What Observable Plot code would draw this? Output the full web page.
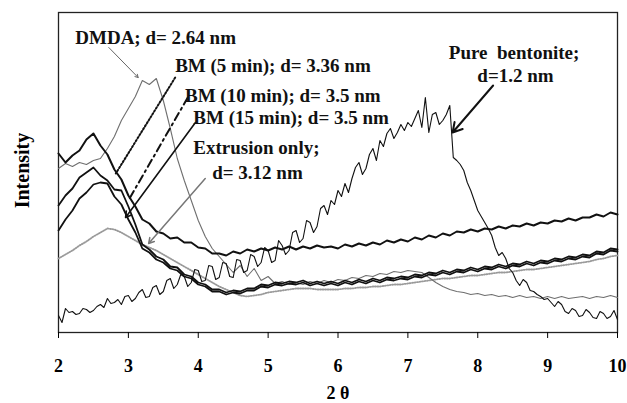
<!DOCTYPE html>
<html>
<head>
<meta charset="utf-8">
<script src="https://cdn.jsdelivr.net/npm/d3@7"></script>
<script src="https://cdn.jsdelivr.net/npm/@observablehq/plot@0.6"></script>
<style>
  html, body { margin: 0; padding: 0; background: #fff; }
  #chart svg { display: block; }
</style>
</head>
<body>
<div id="chart"></div>
<script>
// Diffraction angle grid (2θ, degrees)
const theta = [
  2.0, 2.1, 2.2, 2.3, 2.4, 2.5, 2.6, 2.7, 2.8, 2.9,
  3.0, 3.1, 3.2, 3.3, 3.4, 3.5, 3.6, 3.7, 3.8, 3.9,
  4.0, 4.1, 4.2, 4.3, 4.4, 4.5, 4.6, 4.7, 4.8, 4.9,
  5.0, 5.1, 5.2, 5.3, 5.4, 5.5, 5.6, 5.7, 5.8, 5.9,
  6.0, 6.1, 6.2, 6.3, 6.4, 6.5, 6.6, 6.7, 6.8, 6.9,
  7.0, 7.1, 7.2, 7.3, 7.4, 7.5, 7.6, 7.7, 7.8, 7.9,
  8.0, 8.1, 8.2, 8.3, 8.4, 8.5, 8.6, 8.7, 8.8, 8.9,
  9.0, 9.1, 9.2, 9.3, 9.4, 9.5, 9.6, 9.7, 9.8, 9.9, 10.0
];

// Finer 2θ grid used for the pure bentonite scan
const thetaFine = [
  2.00, 2.05, 2.10, 2.15, 2.20, 2.25, 2.30, 2.35, 2.40, 2.45,
  2.50, 2.55, 2.60, 2.65, 2.70, 2.75, 2.80, 2.85, 2.90, 2.95,
  3.00, 3.05, 3.10, 3.15, 3.20, 3.25, 3.30, 3.35, 3.40, 3.45,
  3.50, 3.55, 3.60, 3.65, 3.70, 3.75, 3.80, 3.85, 3.90, 3.95,
  4.00, 4.05, 4.10, 4.15, 4.20, 4.25, 4.30, 4.35, 4.40, 4.45,
  4.50, 4.55, 4.60, 4.65, 4.70, 4.75, 4.80, 4.85, 4.90, 4.95,
  5.00, 5.05, 5.10, 5.15, 5.20, 5.25, 5.30, 5.35, 5.40, 5.45,
  5.50, 5.55, 5.60, 5.65, 5.70, 5.75, 5.80, 5.85, 5.90, 5.95,
  6.00, 6.05, 6.10, 6.15, 6.20, 6.25, 6.30, 6.35, 6.40, 6.45,
  6.50, 6.55, 6.60, 6.65, 6.70, 6.75, 6.80, 6.85, 6.90, 6.95,
  7.00, 7.05, 7.10, 7.15, 7.20, 7.25, 7.30, 7.35, 7.40, 7.45,
  7.50, 7.55, 7.60, 7.65, 7.70, 7.75, 7.80, 7.85, 7.90, 7.95,
  8.00, 8.05, 8.10, 8.15, 8.20, 8.25, 8.30, 8.35, 8.40, 8.45,
  8.50, 8.55, 8.60, 8.65, 8.70, 8.75, 8.80, 8.85, 8.90, 8.95,
  9.00, 9.05, 9.10, 9.15, 9.20, 9.25, 9.30, 9.35, 9.40, 9.45,
  9.50, 9.55, 9.60, 9.65, 9.70, 9.75, 9.80, 9.85, 9.90, 9.95,
  10.00
];

// Intensities (arbitrary units) for each sample
const dmda = [
  164, 169, 166, 170, 168, 172, 174, 184, 196, 212,
  224, 236, 252, 248, 254, 232, 204, 174, 152, 132,
  112, 96, 84, 76, 68, 60, 67, 56, 64, 52,
  56, 49, 51, 48, 50, 48, 51, 49, 52, 50,
  53, 52, 55, 54, 57, 56, 59, 58, 61, 60,
  62, 61, 60, 55, 50, 46, 43, 41, 40, 38,
  39, 37, 38, 36, 37, 35, 37, 35, 36, 34,
  36, 34, 36, 34, 35, 36, 34, 36, 35, 37, 35
];
const bm5 = [
  179, 170, 177, 182, 193, 199, 187, 178, 163, 153,
  137, 126, 113, 109, 101, 99, 94, 95, 90, 90,
  85, 84, 79, 79, 77, 81, 79, 83, 81, 84,
  82, 85, 83, 86, 83, 86, 84, 87, 85, 86,
  84, 88, 86, 89, 87, 90, 88, 92, 90, 93,
  91, 95, 93, 97, 95, 99, 97, 101, 100, 103,
  101, 104, 103, 106, 104, 107, 106, 109, 107, 110,
  109, 112, 111, 114, 112, 115, 115, 118, 116, 120, 118
];
const bm10 = [
  127, 137, 144, 155, 160, 165, 157, 152, 143, 142,
  126, 108, 88, 83, 76, 73, 66, 65, 58, 56,
  50, 48, 43, 43, 40, 42, 41, 44, 44, 48,
  47, 50, 49, 51, 50, 52, 49, 51, 49, 51,
  49, 52, 50, 53, 51, 54, 52, 55, 54, 56,
  55, 58, 57, 60, 59, 62, 60, 63, 62, 65,
  63, 66, 65, 68, 66, 69, 68, 71, 69, 72,
  71, 74, 73, 76, 75, 78, 77, 81, 80, 84, 83
];
const bm15 = [
  102, 113, 122, 134, 140, 148, 150, 149, 136, 128,
  113, 100, 84, 80, 73, 70, 64, 62, 56, 54,
  48, 46, 41, 41, 38, 40, 39, 42, 42, 46,
  45, 48, 47, 49, 48, 50, 47, 49, 47, 49,
  47, 50, 48, 51, 49, 52, 50, 53, 52, 54,
  53, 56, 55, 58, 57, 60, 58, 61, 60, 63,
  61, 64, 63, 66, 64, 67, 66, 69, 67, 70,
  69, 72, 71, 74, 73, 76, 75, 79, 78, 82, 81
];
const extrusion = [
  74, 78, 82, 87, 91, 96, 100, 104, 103, 100,
  96, 92, 88, 85, 82, 78, 74, 70, 66, 62,
  58, 54, 50, 46, 43, 40, 37, 36, 37, 38,
  40, 41, 42, 43, 44, 44, 44, 43, 43, 43,
  43, 44, 44, 45, 45, 46, 46, 47, 48, 48,
  49, 50, 51, 52, 53, 54, 54, 55, 56, 57,
  57, 58, 59, 60, 60, 61, 62, 63, 63, 64,
  65, 66, 67, 68, 69, 70, 71, 73, 74, 76, 77
];
const bentonite = [
  17, 10, 24, 20, 21, 18, 19, 24, 23, 20,
  22, 26, 28, 25, 34, 29, 30, 33, 28, 36,
  37, 31, 34, 40, 43, 35, 36, 45, 47, 38,
  41, 52, 54, 44, 48, 58, 56, 46, 50, 63,
  62, 51, 52, 67, 66, 53, 55, 70, 69, 56,
  55, 73, 72, 60, 62, 78, 76, 66, 70, 85,
  82, 70, 72, 92, 87, 78, 82, 100, 102, 90,
  94, 112, 110, 100, 106, 124, 127, 118, 132, 128,
  142, 136, 149, 140, 154, 165, 170, 158, 164, 178,
  184, 172, 192, 186, 199, 204, 194, 200, 208, 202,
  210, 206, 214, 222, 205, 235, 200, 218, 220, 208,
  212, 218, 227, 175, 172, 168, 162, 150, 142, 132,
  122, 116, 110, 104, 97, 85, 77, 80, 74, 64,
  60, 52, 47, 53, 50, 42, 41, 38, 36, 33,
  34, 30, 26, 31, 28, 21, 19, 24, 22, 16,
  17, 23, 20, 15, 14, 21, 19, 14, 16, 22,
  13
];

// Callout labels and their leader arrows
const labels = [
  {t: 2.24, I: 295, text: "DMDA; d= 2.64 nm", anchor: "start"},
  {t: 3.67, I: 267, text: "BM (5 min); d= 3.36 nm", anchor: "start"},
  {t: 3.81, I: 237, text: "BM (10 min); d= 3.5 nm", anchor: "start"},
  {t: 3.93, I: 215, text: "BM (15 min); d= 3.5 nm", anchor: "start"},
  {t: 3.93, I: 185, text: "Extrusion only;", anchor: "start"},
  {t: 4.20, I: 160, text: "d= 3.12 nm", anchor: "start"},
  {t: 8.52, I: 280, text: "Pure  bentonite;", anchor: "middle"},
  {t: 8.54, I: 257, text: "d=1.2 nm", anchor: "middle"}
];
const leaders = [
  {t1: 2.72, I1: 285, t2: 3.14, I2: 255, color: "#666", width: 1, dash: null, head: 5},
  {t1: 3.67, I1: 255, t2: 2.82, I2: 159, color: "#111", width: 2, dash: "1.5 2", head: 0},
  {t1: 3.85, I1: 235, t2: 3.00, I2: 132, color: "#111", width: 2, dash: "8 4 2 4", head: 0},
  {t1: 3.96, I1: 210, t2: 2.96, I2: 115, color: "#111", width: 1.6, dash: null, head: 6},
  {t1: 4.10, I1: 154, t2: 3.29, I2: 89, color: "#777", width: 1.5, dash: null, head: 6},
  {t1: 8.22, I1: 247, t2: 7.64, I2: 200, color: "#111", width: 2, dash: null, head: 8}
];

const rows = (grid, vals) => grid.map((t, i) => ({t, I: vals[i]}));
const serif = "'Liberation Serif', 'Times New Roman', serif";

const chart = Plot.plot({
  width: 627,
  height: 403,
  marginLeft: 58,
  marginRight: 10,
  marginTop: 12,
  marginBottom: 71,
  style: {fontFamily: serif, background: "#fff"},
  x: {domain: [2, 10]},
  y: {domain: [0, 320], axis: null},
  marks: [
    Plot.frame({stroke: "#222", strokeWidth: 1.3}),
    Plot.axisX({
      ticks: [2, 3, 4, 5, 6, 7, 8, 9, 10],
      tickFormat: d3.format("d"),
      tickSize: 6,
      tickPadding: 21,
      fontSize: 18,
      fontWeight: "bold",
      label: null
    }),
    Plot.line(rows(theta, extrusion), {x: "t", y: "I", stroke: "#9a9a9a", strokeWidth: 1.8, strokeDasharray: "1 1.5"}),
    Plot.line(rows(theta, dmda), {x: "t", y: "I", stroke: "#6f6f6f", strokeWidth: 1.1}),
    Plot.line(rows(theta, bm15), {x: "t", y: "I", stroke: "#111", strokeWidth: 1.8}),
    Plot.line(rows(theta, bm10), {x: "t", y: "I", stroke: "#111", strokeWidth: 1.8}),
    Plot.line(rows(theta, bm5), {x: "t", y: "I", stroke: "#111", strokeWidth: 2}),
    Plot.line(rows(thetaFine, bentonite), {x: "t", y: "I", stroke: "#111", strokeWidth: 1.1}),
    ...leaders.map(d => Plot.arrow([d], {
      x1: "t1", y1: "I1", x2: "t2", y2: "I2",
      stroke: d.color, strokeWidth: d.width, strokeDasharray: d.dash,
      headLength: d.head, bend: false
    })),
    ...labels.map(d => Plot.text([d], {
      x: "t", y: "I", text: "text", textAnchor: d.anchor,
      fontSize: 19, fontWeight: "bold", fill: "#111", fontFamily: serif
    })),
    Plot.text(["2 θ"], {frameAnchor: "bottom", dy: 66, fontSize: 18, fontWeight: "bold", fontFamily: serif}),
    Plot.text([{t: 2, I: 162}], {x: "t", y: "I", text: () => "Intensity", dx: -36, rotate: -90, fontSize: 20, fontWeight: "bold", fontFamily: serif})
  ]
});
document.getElementById("chart").appendChild(chart);
</script>
</body>
</html>
